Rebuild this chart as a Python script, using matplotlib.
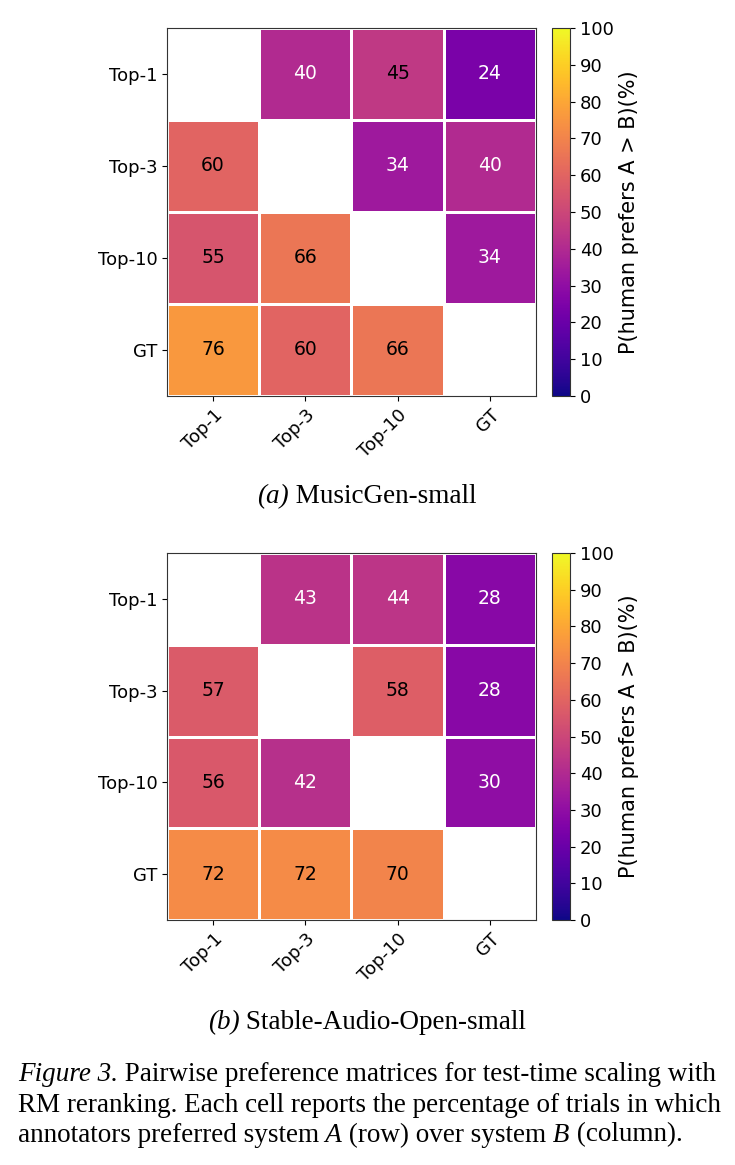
import numpy as np
import matplotlib
matplotlib.use("Agg")
import matplotlib.pyplot as plt

plt.rcParams['font.family'] = ['DejaVu Sans']

systems = ['Top-1', 'Top-3', 'Top-10', 'GT']

# rows = system A, columns = system B, diagonal left empty
musicgen = [[np.nan, 40, 45, 24],
            [60, np.nan, 34, 40],
            [55, 66, np.nan, 34],
            [76, 60, 66, np.nan]]

stable_audio = [[np.nan, 43, 44, 28],
                [57, np.nan, 58, 28],
                [56, 42, np.nan, 30],
                [72, 72, 70, np.nan]]

cbar_label = 'P(human prefers A > B)(%)'

# caption pieces: (text, italic?)
panel_a = [('(a)', True), (' MusicGen-small', False)]
panel_b = [('(b)', True), (' Stable-Audio-Open-small', False)]
caption_lines = [
    [('Figure 3.', True), (' Pairwise preference matrices for test-time scaling with', False)],
    [('RM reranking. Each cell reports the percentage of trials in which', False)],
    [('annotators preferred system', False), (' A', True), (' (row) over system', False),
     (' B', True), (' (column).', False)],
]

SERIF = 'Liberation Serif'
CAP_SIZE = 19.5


def draw_matrix(ax, cax, values):
    data = np.ma.masked_invalid(np.array(values, dtype=float))
    mesh = ax.pcolormesh(data, cmap='plasma', vmin=0, vmax=100,
                         edgecolors='white', linewidth=1.0)
    ax.set_xlim(0, len(systems))
    ax.set_ylim(len(systems), 0)
    ax.set_xticks(np.arange(len(systems)) + 0.5)
    ax.set_yticks(np.arange(len(systems)) + 0.5)
    ax.set_xticklabels(systems, rotation=45, ha='right', rotation_mode='anchor', fontsize=13)
    ax.set_yticklabels(systems, fontsize=13)
    for s in ax.spines.values():
        s.set_color('#333333')
    for i in range(len(systems)):
        for j in range(len(systems)):
            v = values[i][j]
            if np.isnan(v):
                continue
            color = 'black' if v >= 45 else 'white'
            ax.text(j + 0.5, i + 0.5, f"{v:.0f}", ha='center', va='center',
                    fontsize=13.5, color=color)
    cb = plt.colorbar(mesh, cax=cax)
    cb.set_ticks(range(0, 101, 10))
    cb.ax.tick_params(labelsize=13)
    cb.set_label(cbar_label, fontsize=15)
    cb.outline.set_edgecolor('#333333')


def draw_runs(fig, x, y, runs, align='left'):
    # lay out text pieces one after another, switching italic on and off
    renderer = fig.canvas.get_renderer()
    fig_w = fig.bbox.width
    texts = []
    widths = []
    for txt, italic in runs:
        t = fig.text(0, y, txt, ha='left', va='center', fontsize=CAP_SIZE,
                     family=SERIF, style='italic' if italic else 'normal')
        widths.append(t.get_window_extent(renderer).width / fig_w)
        texts.append(t)
    start = x - sum(widths) / 2 if align == 'center' else x
    for t, w in zip(texts, widths):
        t.set_x(start)
        start += w


fig = plt.figure(figsize=(7.35, 11.65), dpi=100)

ax1 = fig.add_axes([0.2272, 0.6601, 0.502, 0.3159])
cax1 = fig.add_axes([0.751, 0.6601, 0.0245, 0.3159])
draw_matrix(ax1, cax1, musicgen)

ax2 = fig.add_axes([0.2272, 0.2103, 0.502, 0.3150])
cax2 = fig.add_axes([0.751, 0.2103, 0.0245, 0.3150])
draw_matrix(ax2, cax2, stable_audio)

draw_runs(fig, 0.4993, 0.5734, panel_a, align='center')
draw_runs(fig, 0.4993, 0.1219, panel_b, align='center')

for k, line in enumerate(caption_lines):
    draw_runs(fig, 0.0245, 0.0773 - k * 0.0258, line)

fig.savefig('out.png', dpi=100)
